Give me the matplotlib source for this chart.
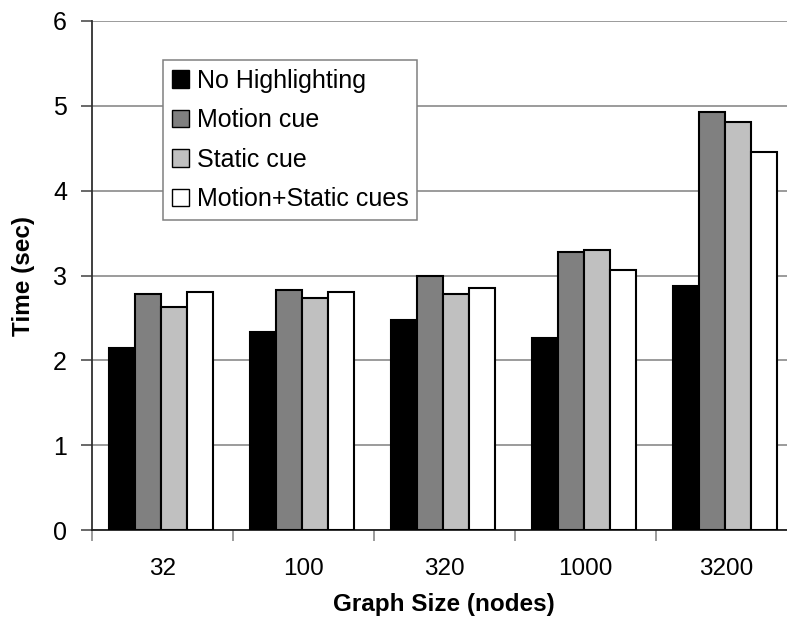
import numpy as np
import matplotlib
matplotlib.use("Agg")
from matplotlib import pyplot as plt

sizes = ["32", "100", "320", "1000", "3200"]
no_highlight = [2.15, 2.33, 2.48, 2.26, 2.88]
motion_cue = [2.78, 2.83, 3.00, 3.28, 4.93]
static_cue = [2.63, 2.73, 2.78, 3.30, 4.81]
motion_static = [2.81, 2.81, 2.85, 3.06, 4.46]

series = [
    ("No Highlighting", no_highlight, "#000000"),
    ("Motion cue", motion_cue, "#808080"),
    ("Static cue", static_cue, "#c0c0c0"),
    ("Motion+Static cues", motion_static, "#ffffff"),
]

plt.rcParams["font.family"] = ["Liberation Sans", "DejaVu Sans"]

fig = plt.figure(figsize=(7.87, 6.30), dpi=100)
# plot area runs a little past the right edge of the canvas
ax = fig.add_axes([92 / 787, 1 - 530 / 630, 705 / 787, 509 / 630])

x = np.arange(len(sizes))
bar_w = 0.183
for i, (name, vals, color) in enumerate(series):
    offs = (i - 1.5) * bar_w - 0.01
    ax.bar(x + offs, vals, bar_w, color=color, edgecolor="black",
           linewidth=1.5, label=name, zorder=3)

ax.set_xlim(-0.5, len(sizes) - 0.5)
ax.set_ylim(0, 6)
ax.set_yticks(range(0, 7))
ax.yaxis.grid(True, color="#808080", linewidth=1.1, zorder=0)
ax.set_axisbelow(True)

# category labels in the middle, tick marks on the boundaries
ax.set_xticks(x)
ax.set_xticklabels(sizes)
ax.set_xticks(np.arange(len(sizes) + 1) - 0.5, minor=True)
ax.tick_params(axis="x", which="major", length=0, pad=20, labelsize=17.5)
ax.tick_params(axis="x", which="minor", length=8, width=1.1, color="#808080",
               direction="out")
ax.tick_params(axis="y", length=8, width=1.1, color="#404040", direction="out",
               pad=10, labelsize=18)

for side in ["top", "right"]:
    ax.spines[side].set_visible(False)
ax.spines["left"].set_color("#303030")
ax.spines["left"].set_linewidth(1.3)
ax.spines["bottom"].set_color("#202020")
ax.spines["bottom"].set_linewidth(1.3)

ax.set_ylabel("Time (sec)", fontsize=17.5, fontweight="bold", labelpad=13)
fig.text(444 / 787, 1 - 604 / 630, "Graph Size (nodes)", fontsize=17.5,
         fontweight="bold", ha="center", va="center")

leg = ax.legend(loc="upper left", bbox_to_anchor=(163 / 787, 1 - 60 / 630),
                bbox_transform=fig.transFigure, borderaxespad=0,
                fontsize=18, frameon=True, fancybox=False, framealpha=1,
                handlelength=0.7, handleheight=0.7, handletextpad=0.3,
                labelspacing=0.62, borderpad=0.35)
leg.get_frame().set_edgecolor("#808080")
leg.get_frame().set_linewidth(1.1)
for h in leg.legend_handles:
    h.set_linewidth(1.0)

fig.savefig("out.png", dpi=100)
